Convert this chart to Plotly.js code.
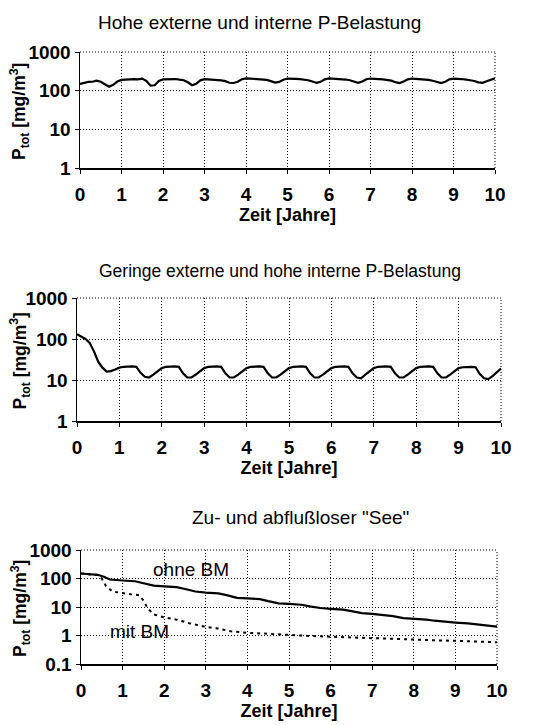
<!DOCTYPE html>
<html>
<head>
<meta charset="utf-8">
<script src="https://cdn.plot.ly/plotly-3.0.1.min.js"></script>
<style>html,body{margin:0;padding:0;background:#fff;}#chart{width:549px;height:725px;}</style>
</head>
<body>
<div id="chart"></div>
<script>
// ---- Data ----
const titles = ["Hohe externe und interne P-Belastung", "Geringe externe und hohe interne P-Belastung", "Zu- und abflußloser \"See\""];
const xTitle = "Zeit [Jahre]";
const yTitle = "P<sub>tot</sub> [mg/m<sup>3</sup>]";
const xTickVals = [0,1,2,3,4,5,6,7,8,9,10];
const yTickVals12 = [1,10,100,1000];
const yTickText12 = ["1","10","100","1000"];
const yTickVals3 = [0.1,1,10,100,1000];
const yTickText3 = ["0.1","1","10","100","1000"];

// Chart 1: time step 0.1 year
const t1 = [0,0.1,0.2,0.3,0.4,0.5,0.6,0.7,0.8,0.9,1.0,1.1,1.2,1.3,1.4,1.5,1.6,1.7,1.8,1.9,2.0,2.1,2.2,2.3,2.4,2.5,2.6,2.7,2.8,2.9,3.0,3.1,3.2,3.3,3.4,3.5,3.6,3.7,3.8,3.9,4.0,4.1,4.2,4.3,4.4,4.5,4.6,4.7,4.8,4.9,5.0,5.1,5.2,5.3,5.4,5.5,5.6,5.7,5.8,5.9,6.0,6.1,6.2,6.3,6.4,6.5,6.6,6.7,6.8,6.9,7.0,7.1,7.2,7.3,7.4,7.5,7.6,7.7,7.8,7.9,8.0,8.1,8.2,8.3,8.4,8.5,8.6,8.7,8.8,8.9,9.0,9.1,9.2,9.3,9.4,9.5,9.6,9.7,9.8,9.9,10.0];
const p1 = [150,162,168,170,182,170,148,126,142,172,190,
            195,192,200,196,205,178,135,138,178,195,
            198,196,200,192,186,165,138,150,185,198,
            196,192,186,184,176,160,158,170,198,208,
            206,200,202,196,190,176,162,168,192,206,
            208,202,198,192,186,172,160,170,196,208,
            206,204,198,194,186,170,160,172,198,206,
            206,200,196,190,182,166,158,172,196,206,
            204,200,196,190,180,166,158,170,196,204,
            204,200,194,188,178,164,160,176,196,210];

// Chart 2
const t2 = t1;
const p2 = [130,115,100,80,50,28,20,16,16.5,18,20,
            21,21.5,21.5,21,15,12,11.5,13.5,16.5,19.5,
            21,21.5,21.5,21,14.5,11.5,11.5,13.5,16.5,19.5,
            21,21.5,21.5,21,14.5,11.5,11.5,13.5,16.5,19.5,
            21,21.5,21.5,21,14.5,11.5,11.5,13.5,16.5,19.5,
            21,21.5,21.5,21,14.5,11.5,11.5,13.5,16.5,19.5,
            21,21.5,21.5,21,14.5,11.5,11,13.5,16.5,19.5,
            21,21.5,21.5,21,14.5,11.5,11.5,13.5,16.5,19.5,
            21,21.5,21.5,21,14.5,11.5,11.5,13.5,16.5,19.5,
            20.5,21,21,20.5,14,11,10.5,12.5,15.5,19];

// Chart 3
const t3a = [0,0.2,0.4,0.55,0.7,1.0,1.3,1.5,1.75,2.0,2.3,2.5,2.75,3.0,3.3,3.5,3.75,4.0,4.3,4.5,4.75,5.0,5.3,5.5,5.75,6.0,6.3,6.5,6.75,7.0,7.3,7.5,7.75,8.0,8.3,8.5,8.75,9.0,9.3,9.5,9.75,10];
const ohneBM = [150,140,135,115,92,85,80,68,56,53,50,43,35,32,30,26,21,20,19,16,13.5,12.8,12,10.5,9.2,8.6,8.1,7.2,6.1,5.7,5.3,4.8,4.1,3.9,3.6,3.3,3.0,2.85,2.65,2.45,2.2,2.05];
const t3b = [0,0.2,0.4,0.5,0.6,0.75,1.0,1.2,1.4,1.5,1.6,1.75,2.0,2.3,2.6,3.0,3.3,3.6,4.0,4.3,4.6,5.0,5.5,6.0,6.5,7.0,7.5,8.0,8.5,9.0,9.5,10];
const mitBM = [150,140,132,100,55,35,30,28,26,17,9,5.5,4.3,3.6,2.7,2.0,1.75,1.4,1.25,1.2,1.1,1.05,0.96,0.9,0.84,0.79,0.75,0.71,0.68,0.65,0.62,0.58];
const labels3 = ["ohne BM", "mit BM"];

// ---- Layout helpers ----
const W = 549, H = 725;
const FONT = "Liberation Sans, Arial, sans-serif";
function px(x){ return x / W; }
function py(y){ return 1 - y / H; }

const panels = [
  {x0:80, x1:495, yTop:52, yBot:168, yr:[0,3], tv:yTickVals12, tt:yTickText12, title:titles[0], titleX:259, titleY:22, tsize:19},
  {x0:77, x1:501, yTop:298, yBot:421, yr:[0,3], tv:yTickVals12, tt:yTickText12, title:titles[1], titleX:280, titleY:271, tsize:17.5},
  {x0:81, x1:497, yTop:550, yBot:664, yr:[-1,3], tv:yTickVals3, tt:yTickText3, title:titles[2], titleX:300, titleY:517, tsize:19}
];

const layout = {
  width: W, height: H,
  margin: {l:0, r:0, t:0, b:0},
  paper_bgcolor: "#fff", plot_bgcolor: "#fff",
  showlegend: false,
  font: {family: FONT, color: "#000", size: 17},
  annotations: [], shapes: []
};

const GRIDDASH = "1px,2px";

panels.forEach((p, i) => {
  const n = i === 0 ? "" : String(i + 1);
  layout["xaxis" + n] = {
    domain: [px(p.x0), px(p.x1)], anchor: "y" + n, range: [0, 10],
    tickvals: xTickVals, ticks: "outside", ticklen: 4, tickcolor: "#000", tickwidth: 1,
    ticklabelstandoff: 5,
    showline: true, linecolor: "#000", linewidth: 1.5,
    showgrid: true, gridcolor: "#000", griddash: GRIDDASH, gridwidth: 1,
    zeroline: false, fixedrange: true,
    tickfont: {family: FONT, size: 19, weight: "bold", color: "#000"},
    title: {text: xTitle, font: {family: FONT, size: 18, weight: "bold", color: "#000"}, standoff: 1}
  };
  layout["yaxis" + n] = {
    domain: [py(p.yBot), py(p.yTop)], anchor: "x" + n, type: "log", range: p.yr,
    tickvals: p.tv, ticktext: p.tt, ticks: "outside", ticklen: 4, tickcolor: "#000",
    showline: true, linecolor: "#000", linewidth: 1.5,
    showgrid: true, gridcolor: "#000", griddash: GRIDDASH, gridwidth: 1,
    zeroline: false, fixedrange: true,
    tickfont: {family: FONT, size: 19, weight: "bold", color: "#000"}
  };
  layout.annotations.push({
    xref: "paper", yref: "paper", x: px(p.titleX), y: py(p.titleY),
    xanchor: "center", yanchor: "middle", showarrow: false,
    text: p.title, font: {family: FONT, size: p.tsize, color: "#000"}
  });
  layout.annotations.push({
    xref: "paper", yref: "paper", x: px(20), y: py((p.yTop + p.yBot) / 2 + 2),
    xanchor: "center", yanchor: "middle", showarrow: false, textangle: -90,
    text: yTitle, font: {family: FONT, size: 17.5, weight: "bold", color: "#000"}
  });
  // dotted frame top and right
  layout.shapes.push({type: "line", xref: "x" + n + " domain", yref: "y" + n + " domain",
    x0: 0, x1: 1, y0: 1, y1: 1, line: {color: "#000", width: 1, dash: GRIDDASH}});
  layout.shapes.push({type: "line", xref: "x" + n + " domain", yref: "y" + n + " domain",
    x0: 1, x1: 1, y0: 0, y1: 1, line: {color: "#000", width: 1, dash: GRIDDASH}});
});

layout.annotations.push({xref: "x3", yref: "y3", x: 2.64, y: Math.log10(200), text: labels3[0],
  showarrow: false, xanchor: "center", yanchor: "middle", font: {family: FONT, size: 19, color: "#000"}});
layout.annotations.push({xref: "x3", yref: "y3", x: 1.40, y: Math.log10(1.38), text: labels3[1],
  showarrow: false, xanchor: "center", yanchor: "middle", font: {family: FONT, size: 19, color: "#000"}});

const lineSolid = {color: "#000", width: 2.2};
const data = [
  {x: t1, y: p1, xaxis: "x", yaxis: "y", mode: "lines", line: lineSolid, hoverinfo: "skip"},
  {x: t2, y: p2, xaxis: "x2", yaxis: "y2", mode: "lines", line: lineSolid, hoverinfo: "skip"},
  {x: t3a, y: ohneBM, xaxis: "x3", yaxis: "y3", mode: "lines", line: lineSolid, hoverinfo: "skip"},
  {x: t3b, y: mitBM, xaxis: "x3", yaxis: "y3", mode: "lines", line: {color: "#000", width: 2, dash: "3px,4px"}, hoverinfo: "skip"}
];

Plotly.newPlot("chart", data, layout, {displayModeBar: false, staticPlot: true});
</script>
</body>
</html>
